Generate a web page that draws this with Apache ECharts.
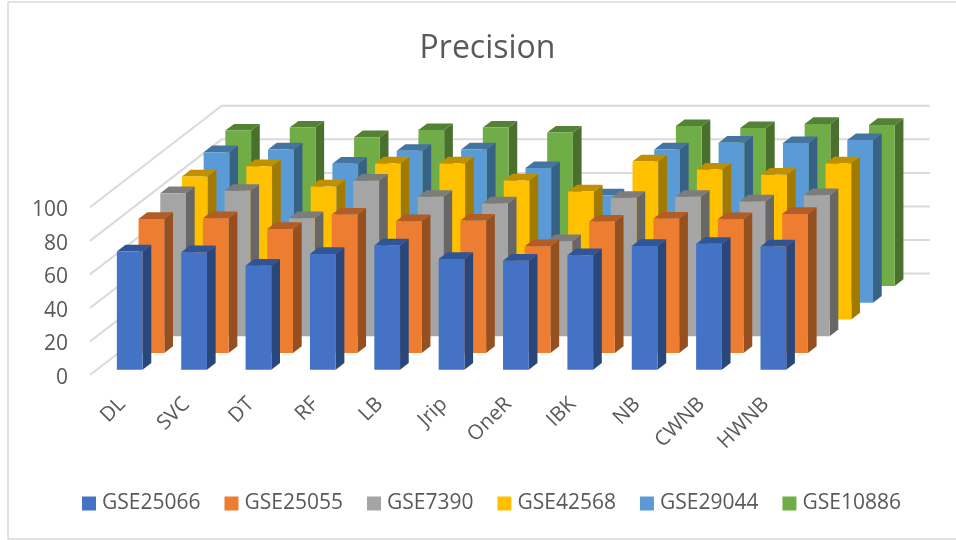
<!DOCTYPE html>
<html>
<head>
<meta charset="utf-8">
<style>html,body{margin:0;padding:0;background:#fff}#chart{width:956px;height:540px}</style>
<script src="https://cdn.jsdelivr.net/npm/echarts@6/dist/echarts.min.js"></script>
</head>
<body>
<div id="chart"></div>
<script>
const categories = ['DL','SVC','DT','RF','LB','Jrip','OneR','IBK','NB','CWNB','HWNB'];
const yTicks = [0,20,40,60,80,100];

const GSE25066 = [70.5,70,62,69,74,66,65,68.2,73.8,75,73.5];
const GSE25055 = [79.9,80.3,73.9,82.5,78.5,78.9,63.6,78.3,80.1,79.7,82.9];
const GSE7390  = [85.3,86.7,70.4,92.7,83.1,79.1,56.6,82.5,83.1,80.3,84.1];
const GSE42568 = [85.3,91.4,79.3,93,93,82.9,76.3,94.2,89.4,86.3,93];
const GSE29044 = [89.8,91.4,82.9,90.6,91.4,80.3,64,91.4,95.4,95.2,97];
const GSE10886 = [92.7,94.5,88.8,93,94.5,91.5,50,95.4,94.2,96.6,96];

const seriesNames = ['GSE25066','GSE25055','GSE7390','GSE42568','GSE29044','GSE10886'];
const seriesValues = [GSE25066,GSE25055,GSE7390,GSE42568,GSE29044,GSE10886];
const faceColors = ['#4472C4','#ED7D31','#A5A5A5','#FFC000','#5B9BD5','#70AD47'];
const topColors  = ['#2F5597','#B25D25','#7C7C7C','#BF9000','#4475A0','#548235'];
const sideColors = ['#2A477B','#965020','#676767','#A37A00','#386186','#4A702E'];

// Oblique projection of the depth axis: screen shift for one row of bars.
const ROW_DX = 21.7, ROW_DY = 16.72;
const FIRST_ROW = 0.32;      // gap between the front edge of the floor and the first row
const BAR_FRACTION = 0.4;    // bar width and depth relative to a category band / row
const WALL_ROWS = 6.07;      // full depth of the floor in rows

function pts(list){ return {points:list}; }

function renderBar(row){
  return function(params, api){
    const c = api.coord([api.value(0), api.value(1)]);
    const b = api.coord([api.value(0), 0]);
    const w = api.size([1,0])[0]*BAR_FRACTION;
    const ox = (FIRST_ROW+row)*ROW_DX, oy = (FIRST_ROW+row)*ROW_DY;
    const dx = ROW_DX*BAR_FRACTION, dy = ROW_DY*BAR_FRACTION;
    const l = c[0]+ox-w/2+0.6, r = l+w, t = c[1]-oy, bt = b[1]-oy;
    return {type:'group', children:[
      {type:'polygon', shape:pts([[r,t],[r+dx,t-dy],[r+dx,bt-dy],[r,bt]]), style:{fill:sideColors[row]}},
      {type:'polygon', shape:pts([[l,t],[l+dx,t-dy],[r+dx,t-dy],[r,t]]), style:{fill:topColors[row]}},
      {type:'rect', shape:{x:l,y:t,width:w,height:bt-t}, style:{fill:faceColors[row]}}
    ]};
  };
}

// Gridlines running along the side wall and then the back wall.
function renderWall(params, api){
  const band = api.size([1,0])[0];
  const first = api.coord([0, api.value(1)]);
  const last = api.coord([categories.length-1, api.value(1)]);
  const x0 = first[0]-band/2, y0 = first[1];
  const bx = x0+WALL_ROWS*ROW_DX, by = y0-WALL_ROWS*ROW_DY;
  return {type:'polyline',
    shape:pts([[x0,y0],[bx,by],[last[0]+band/2+WALL_ROWS*ROW_DX,by]]),
    style:{stroke:'#DADADA',lineWidth:2,fill:null}};
}

const FONT = '"Open Sans"';
const chart = echarts.init(document.getElementById('chart'), null, {renderer:'canvas'});
chart.setOption({
  animation:false,
  backgroundColor:'#fff',
  title:{text:'Precision',left:482.5,top:28,textAlign:'center',
    textStyle:{fontFamily:FONT,fontSize:32,fontWeight:'normal',color:'#595959'}},
  legend:{
    data:seriesNames,left:77,top:488,icon:'rect',itemWidth:14,itemHeight:14,itemGap:24,
    textStyle:{fontFamily:FONT,fontSize:21,color:'#595959',padding:[0,0,0,1]},
    selectedMode:false
  },
  grid:{left:90,width:708,top:207.3,height:167.7,containLabel:false},
  xAxis:{type:'category',data:categories,
    axisLine:{show:false},axisTick:{show:false},
    axisLabel:{rotate:45,margin:26,interval:0,fontFamily:FONT,fontSize:20.5,color:'#595959'}},
  yAxis:{type:'value',min:0,max:100,interval:20,
    axisLine:{show:false},axisTick:{show:false},splitLine:{show:false},
    axisLabel:{margin:22,formatter:'{tick|{value}}',
      rich:{tick:{fontFamily:FONT,fontSize:21,color:'#595959',padding:[6,0,0,0]}}}},
  series:[
    {type:'custom',name:'walls',z:1,silent:true,renderItem:renderWall,
      data:yTicks.map(v=>[0,v]),encode:{x:0,y:1}},
    ...seriesNames.map((name,row)=>({
      type:'custom',name:name,z:10-row,
      itemStyle:{color:faceColors[row]},
      renderItem:renderBar(row),
      data:seriesValues[row].map((v,i)=>[i,v]),
      encode:{x:0,y:1}
    }))
  ],
  // Chart frame: its right side lies past the visible area.
  graphic:[{type:'rect',silent:true,z:0,
    shape:{x:8,y:2,width:960,height:537},
    style:{fill:null,stroke:'#D9D9D9',lineWidth:1.5}}]
});
</script>
</body>
</html>
